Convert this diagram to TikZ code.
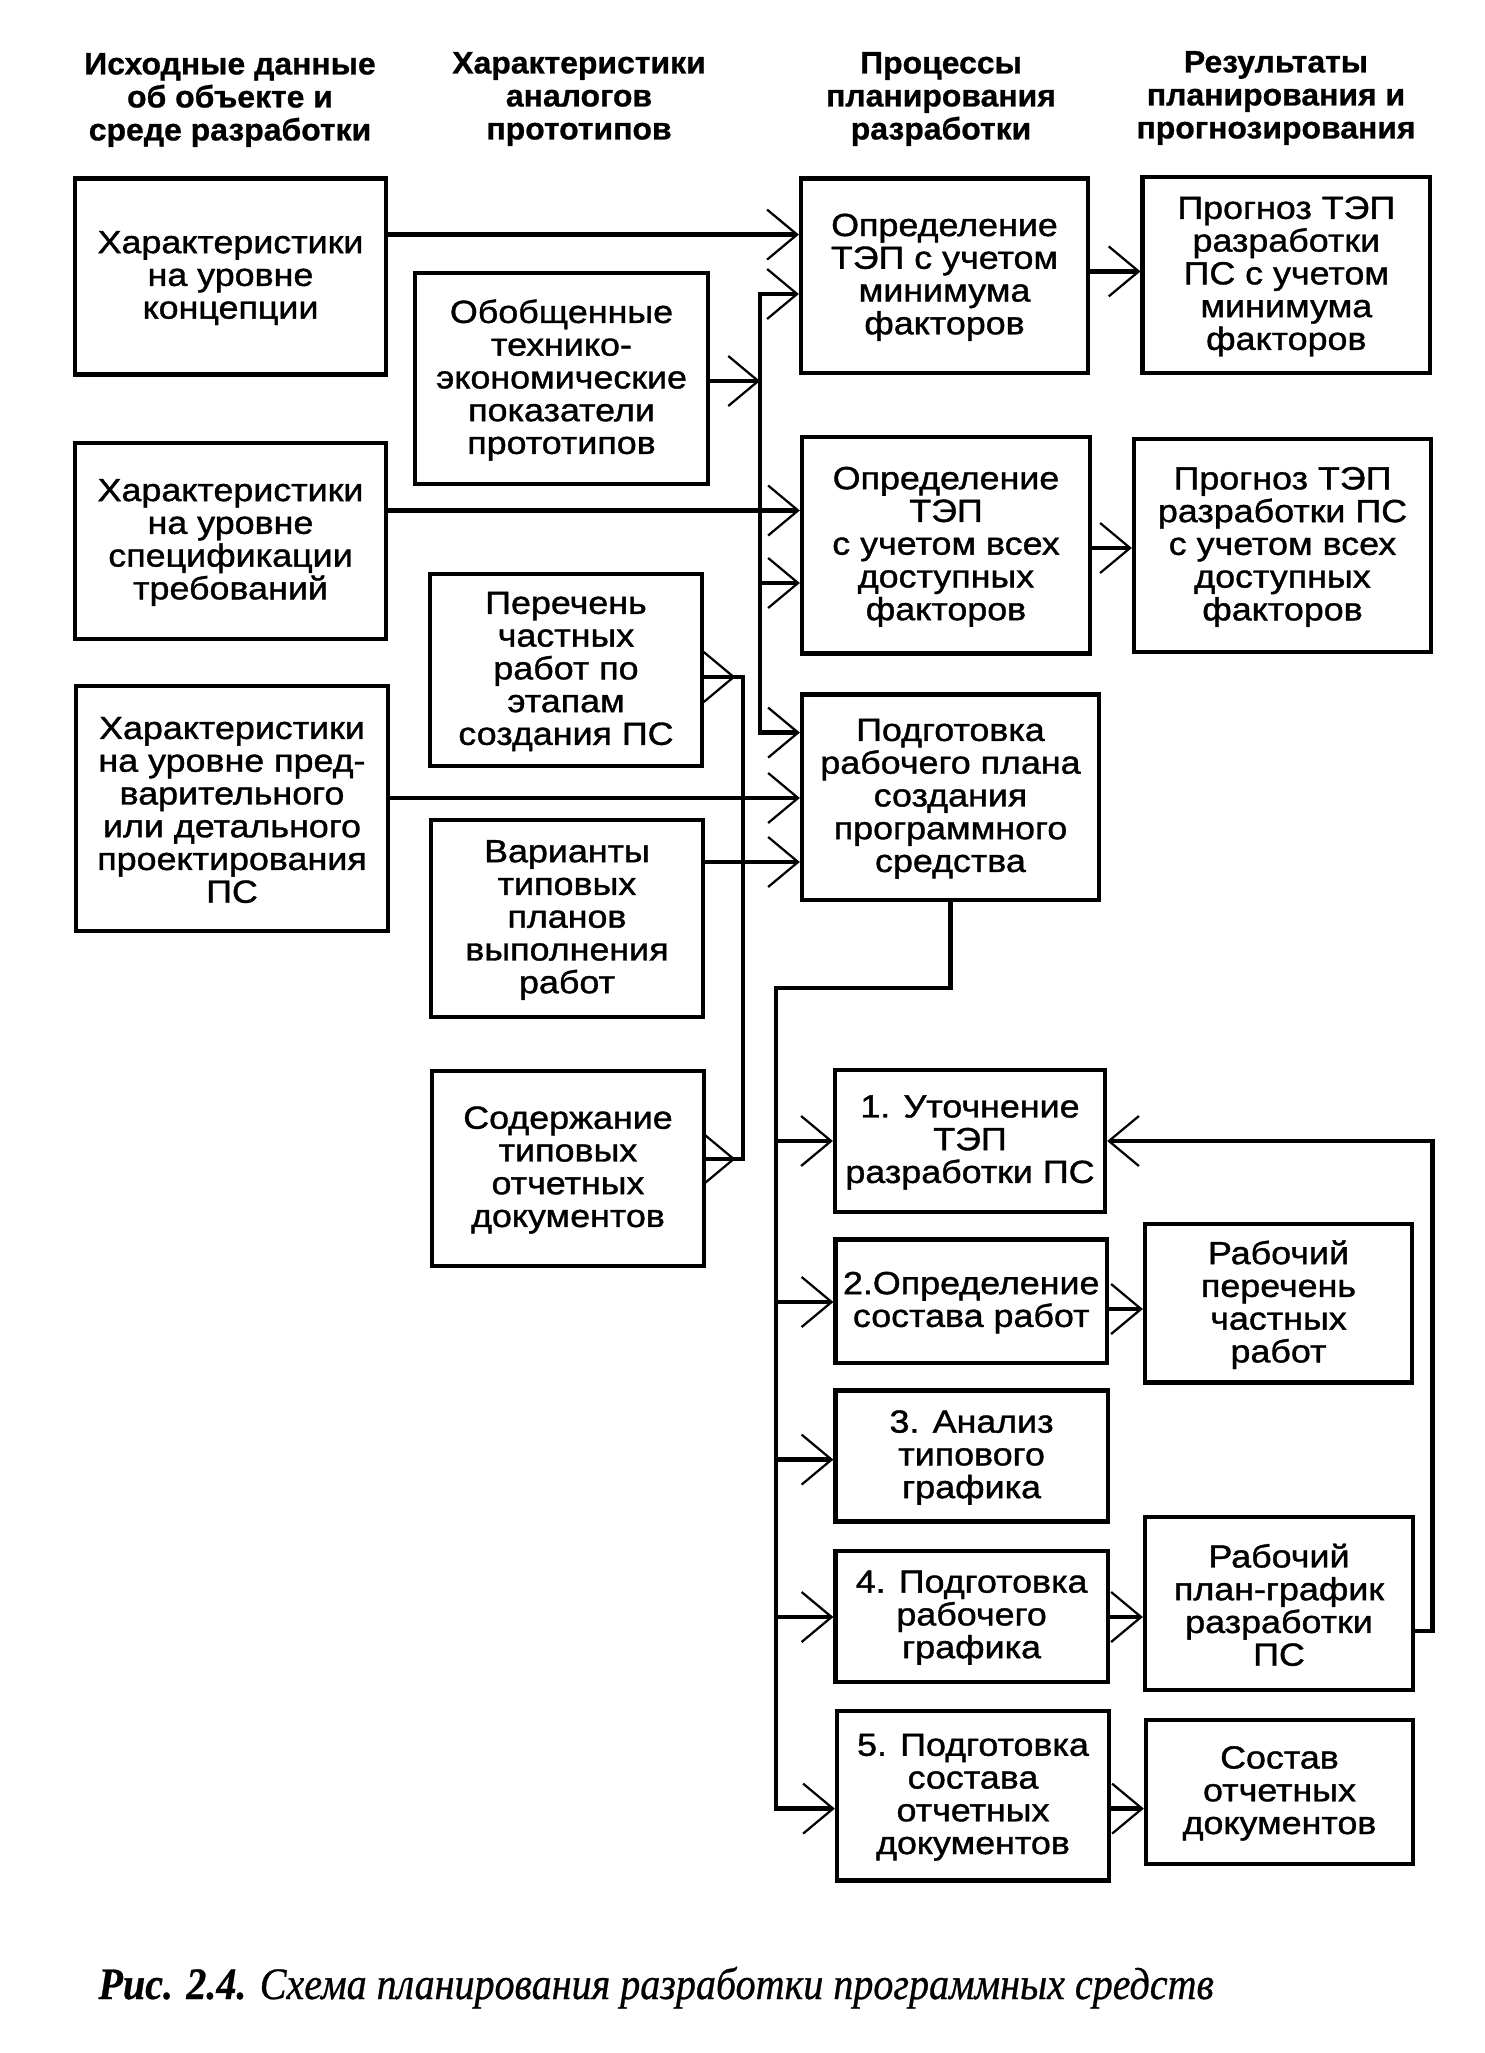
\documentclass[tikz,border=0pt]{standalone}
\usepackage{fontspec}
\setmainfont{Liberation Sans}
\newfontfamily\bodyf[FakeStretch=1.12,FakeBold=1.2]{Liberation Sans}
\newfontfamily\headf[FakeStretch=1.03,FakeBold=0.8]{Liberation Sans}
\newfontfamily\capf[FakeStretch=0.89,FakeBold=0.6]{Liberation Serif}
\usetikzlibrary{arrows.meta,fit}
\newcommand\mybox[4]{%
  \node[box, fit={#2 #3}] (#1) {};
  \node[txt] (#1t) at ([yshift=-0.6pt]#1.center) {#4};}
\begin{document}
\begin{tikzpicture}[x=0.4pt,y=-0.4pt,
  box/.style={draw, line width=1.7pt, inner sep=0pt},
  txt/.style={align=center, inner sep=0pt,
    font=\bodyf\fontsize{12.8}{13.1}\selectfont},
  head/.style={align=center, inner sep=0pt,
    font=\headf\bfseries\fontsize{12.4}{13.2}\selectfont},
  conn/.style={line width=1.7pt},
  arr/.style={conn, -{Straight Barb[length=12pt,width=20pt,line width=0.9pt]}},
]
\useasboundingbox[fill=white] (0,0) rectangle (1485,2053);

% headers
\node[head] (h1) at (230,100) {Исходные данные\\об объекте и\\среде разработки};
\node[head] (h2) at (579,99) {Характеристики\\аналогов\\прототипов};
\node[head] (h3) at (941,99) {Процессы\\планирования\\разработки};
\node[head] (h4) at (1276,98) {Результаты\\планирования и\\прогнозирования};

% column A
\mybox{a1}{(75,178.5)}{(386,374.6)}{Характеристики\\на уровне\\концепции}
\mybox{a2}{(75,443)}{(386,639)}{Характеристики\\на уровне\\спецификации\\требований}
\mybox{a3}{(76,686)}{(388,931)}{Характеристики\\на уровне пред-\\варительного\\или детального\\проектирования\\ПС}

% column B
\mybox{b1}{(415,273)}{(708,484)}{Обобщенные\\технико-\\экономические\\показатели\\прототипов}
\mybox{b2}{(430,574)}{(702,766)}{Перечень\\частных\\работ по\\этапам\\создания ПС}
\mybox{b3}{(431,820)}{(703,1017)}{Варианты\\типовых\\планов\\выполнения\\работ}
\mybox{b4}{(432,1071)}{(704,1266)}{Содержание\\типовых\\отчетных\\документов}

% column C
\mybox{c1}{(801,178.6)}{(1088,373)}{Определение\\ТЭП с учетом\\минимума\\факторов}
\mybox{c2}{(802,437)}{(1090,653.6)}{Определение\\ТЭП\\с учетом всех\\доступных\\факторов}
\mybox{c3}{(802,694.5)}{(1099,900)}{Подготовка\\рабочего плана\\создания\\программного\\средства}

% column D
\mybox{d1}{(1142.6,177)}{(1430,373)}{Прогноз ТЭП\\разработки\\ПС с учетом\\минимума\\факторов}
\mybox{d2}{(1134,439)}{(1431,652)}{Прогноз ТЭП\\разработки ПС\\с учетом всех\\доступных\\факторов}

% column E
\mybox{e1}{(835,1070)}{(1105,1212)}{1. Уточнение\\ТЭП\\разработки ПС}
\mybox{e2}{(835.5,1239.6)}{(1107,1362.7)}{2.Определение\\состава работ}
\mybox{e3}{(835.5,1390.5)}{(1107.7,1521.5)}{3. Анализ\\типового\\графика}
\mybox{e4}{(835.5,1550.7)}{(1107.7,1681.7)}{4. Подготовка\\рабочего\\графика}
\mybox{e5}{(837,1711)}{(1109,1880.4)}{5. Подготовка\\состава\\отчетных\\документов}

% column F
\mybox{f1}{(1145,1224)}{(1412,1382.4)}{Рабочий\\перечень\\частных\\работ}
\mybox{f2}{(1145,1517)}{(1413,1689.7)}{Рабочий\\план-график\\разработки\\ПС}
\mybox{f3}{(1146,1720)}{(1413,1863.8)}{Состав\\отчетных\\документов}

% caption
\node[anchor=base west, inner sep=0pt, font=\capf\itshape\fontsize{18}{20}\selectfont] (cap) at (98,1999)
  {\textbf{Рис. 2.4.} Схема планирования разработки программных средств};

% helper coordinates
\coordinate (bus) at (760,0);
\coordinate (vb) at (743,0);
\coordinate (bus2) at (776,0);
\coordinate (fb) at (1432.5,0);
\coordinate (yA1) at (0,234.6);
\coordinate (yC1b) at (0,294);
\coordinate (yB1) at (0,381);
\coordinate (yA2) at (0,510.5);
\coordinate (yC2b) at (0,583);
\coordinate (yB2) at (0,677);
\coordinate (yC3a) at (0,732.6);
\coordinate (yA3) at (0,798);
\coordinate (yB3) at (0,862);
\coordinate (yB4) at (0,1159);
\coordinate (yD1) at (0,271.4);
\coordinate (yD2) at (0,548);
\coordinate (yK) at (0,988);
\coordinate (yE1) at (0,1141);
\coordinate (yE2) at (0,1302);
\coordinate (yE3) at (0,1459.6);
\coordinate (yE4) at (0,1617);
\coordinate (yE5) at (0,1808.6);
\coordinate (yF1) at (0,1309);
\coordinate (yF2) at (0,1631);

% inputs to C1, C2, C3
\draw[arr] (a1.east |- yA1) -- (c1.west |- yA1);
\draw[arr] (a2.east |- yA2) -- (c2.west |- yA2);
\draw[arr] (a3.east |- yA3) -- (c3.west |- yA3);
\draw[arr] (b3.east |- yB3) -- (c3.west |- yB3);

% main bus
\draw[conn] (bus |- yC1b) -- (bus |- yC3a);
\draw[arr] ([xshift=-0.85pt]bus |- yC1b) -- (c1.west |- yC1b);
\draw[arr] (bus |- yC2b) -- (c2.west |- yC2b);
\draw[arr] ([xshift=-0.85pt]bus |- yC3a) -- (c3.west |- yC3a);
\draw[arr] (b1.east |- yB1) -- (bus |- yB1);

% B2 / B4 collector
\draw[conn] (b2.east |- yB2) -| (vb |- yB4) -- (b4.east |- yB4);
\draw[arr, shorten >=3pt] (b2.east |- yB2) -- (vb |- yB2);
\draw[arr, shorten >=3pt] (b4.east |- yB4) -- (vb |- yB4);

% results
\draw[arr] (c1.east |- yD1) -- (d1.west |- yD1);
\draw[arr] (c2.east |- yD2) -- (d2.west |- yD2);

% C3 to steps
\draw[arr] (c3.south) -- (c3.south |- yK) -- (bus2 |- yK) -- (bus2 |- yE5) -- (e5.west |- yE5);
\draw[arr] (bus2 |- yE1) -- (e1.west |- yE1);
\draw[arr] (bus2 |- yE2) -- (e2.west |- yE2);
\draw[arr] (bus2 |- yE3) -- (e3.west |- yE3);
\draw[arr] (bus2 |- yE4) -- (e4.west |- yE4);

% step outputs
\draw[arr] (e2.east |- yF1) -- (f1.west |- yF1);
\draw[arr] (e4.east |- yE4) -- (f2.west |- yE4);
\draw[arr] (e5.east |- yE5) -- (f3.west |- yE5);

% feedback
\draw[arr] (f2.east |- yF2) -- (fb |- yF2) -- (fb |- yE1) -- (e1.east |- yE1);
\end{tikzpicture}
\end{document}
